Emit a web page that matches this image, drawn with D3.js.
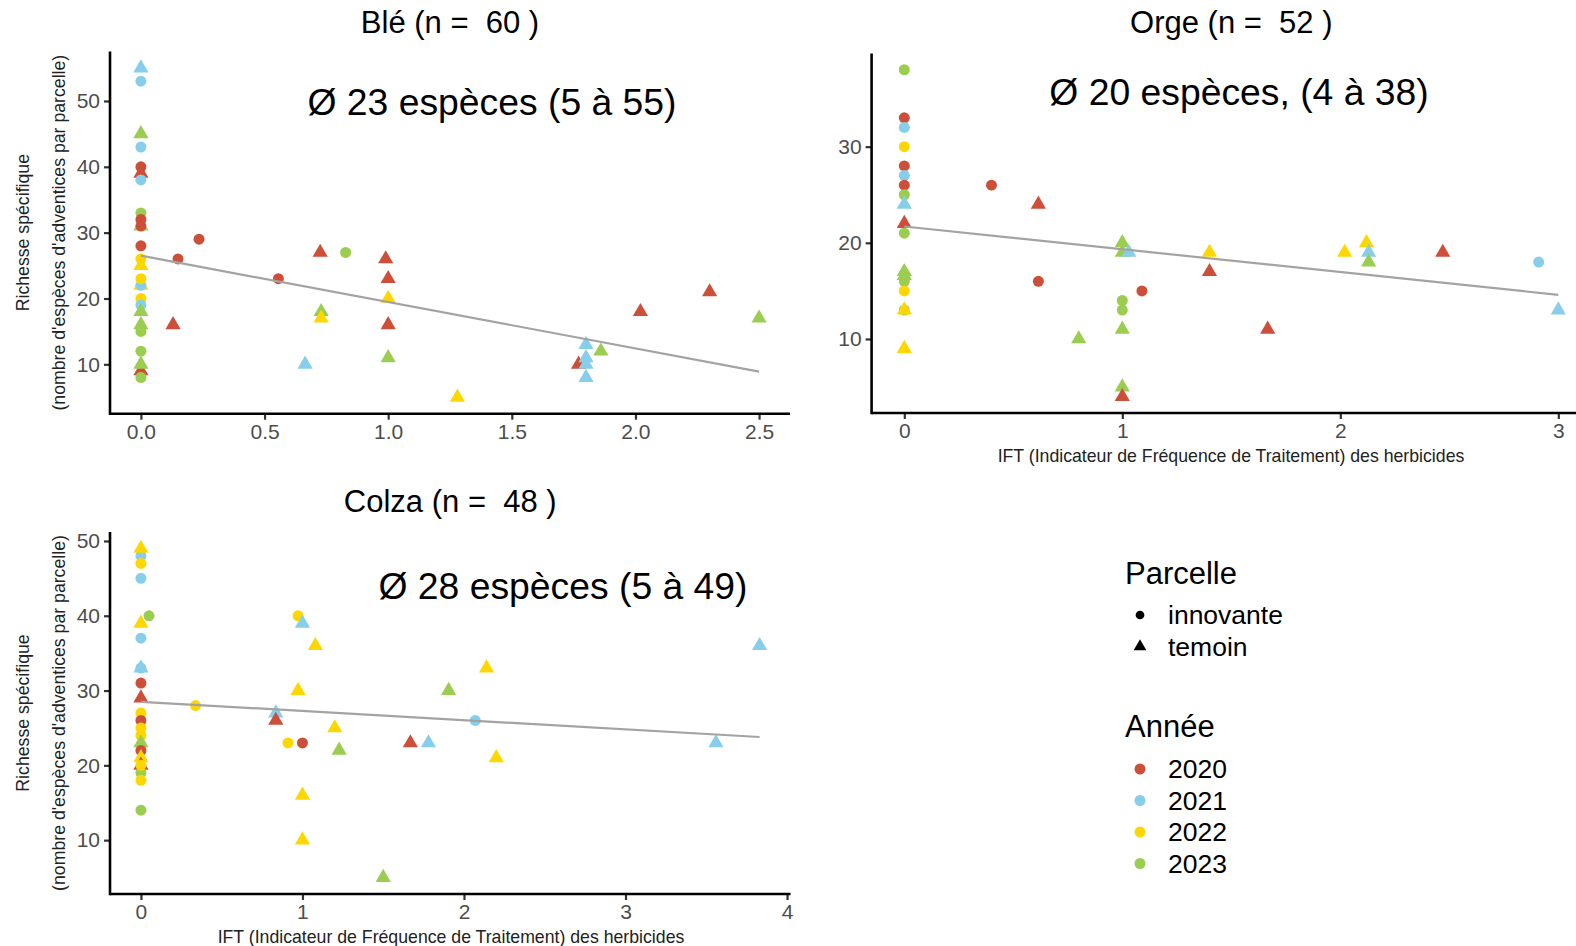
<!DOCTYPE html>
<html>
<head>
<meta charset="utf-8">
<script src="https://cdn.jsdelivr.net/npm/d3@7"></script>
<style>
  body { margin: 0; background: #fff; }
  svg { display: block; font-family: "Liberation Sans", Arial, sans-serif; }
  text { white-space: pre; }
</style>
</head>
<body>
<svg id="chart" width="1576" height="946"></svg>
<script>
// Data: [IFT, richesse, annee, parcelle] ('i' = innovante, 't' = temoin)
const blePoints = [
  [0, 55, 2021, 't'], [0, 53, 2021, 'i'], [0, 45, 2023, 't'], [0, 43, 2021, 'i'],
  [0, 39, 2020, 't'], [0, 40, 2020, 'i'], [0, 38, 2021, 'i'], [0, 31, 2023, 't'],
  [0, 33, 2023, 'i'], [0, 32, 2020, 'i'], [0, 31, 2020, 'i'], [0, 28, 2020, 'i'],
  [0, 25, 2022, 't'], [0, 26, 2022, 'i'], [0, 22, 2022, 't'], [0, 22, 2021, 'i'],
  [0, 23, 2022, 'i'], [0, 20, 2022, 'i'], [0, 19, 2021, 'i'], [0, 18, 2023, 't'],
  [0, 16, 2023, 't'], [0, 15, 2023, 'i'], [0, 12, 2023, 'i'], [0, 9, 2020, 't'],
  [0, 10, 2023, 't'], [0, 8, 2023, 'i'],
  [0.13, 16, 2020, 't'], [0.15, 26, 2020, 'i'], [0.235, 29, 2020, 'i'],
  [0.556, 23, 2020, 'i'], [0.664, 10, 2021, 't'], [0.725, 27, 2020, 't'],
  [0.729, 18, 2023, 't'], [0.729, 17, 2022, 't'], [0.828, 27, 2023, 'i'],
  [0.99, 26, 2020, 't'], [1.0, 23, 2020, 't'], [1.0, 20, 2022, 't'],
  [1.0, 16, 2020, 't'], [1.0, 11, 2023, 't'], [1.28, 5, 2022, 't'],
  [1.77, 10, 2020, 't'], [1.8, 13, 2021, 't'], [1.8, 11, 2021, 't'],
  [1.8, 10, 2021, 't'], [1.8, 8, 2021, 't'], [1.86, 12, 2023, 't'],
  [2.02, 18, 2020, 't'], [2.30, 21, 2020, 't'], [2.50, 17, 2023, 't']
];

const orgePoints = [
  [0, 38, 2023, 'i'], [0, 33, 2020, 'i'], [0, 32, 2021, 'i'], [0, 30, 2022, 'i'],
  [0, 28, 2020, 'i'], [0, 27, 2021, 'i'], [0, 26, 2020, 'i'], [0, 25, 2023, 'i'],
  [0, 24, 2021, 't'], [0, 22, 2020, 't'], [0, 21, 2023, 'i'], [0, 17, 2023, 't'],
  [0, 16.6, 2023, 't'], [0, 16, 2023, 'i'], [0, 15, 2022, 'i'], [0, 13, 2023, 'i'],
  [0, 13, 2022, 't'], [0, 9, 2022, 't'],
  [0.40, 26, 2020, 'i'], [0.615, 24, 2020, 't'], [0.615, 16, 2020, 'i'],
  [0.80, 10, 2023, 't'], [1.0, 20, 2023, 't'], [1.0, 19, 2023, 't'],
  [1.03, 19, 2021, 't'], [1.0, 14, 2023, 'i'], [1.0, 13, 2023, 'i'],
  [1.0, 11, 2023, 't'], [1.0, 5, 2023, 't'], [1.0, 4, 2020, 't'],
  [1.09, 15, 2020, 'i'], [1.40, 19, 2022, 't'], [1.40, 17, 2020, 't'],
  [1.667, 11, 2020, 't'], [2.02, 19, 2022, 't'], [2.12, 20, 2022, 't'],
  [2.13, 19, 2021, 't'], [2.13, 18, 2023, 't'], [2.47, 19, 2020, 't'],
  [2.91, 18, 2021, 'i'], [3.0, 13, 2021, 't']
];

const colzaPoints = [
  [0, 48, 2021, 'i'], [0, 49, 2022, 't'], [0, 47, 2022, 'i'], [0, 45, 2021, 'i'],
  [0.05, 40, 2023, 'i'], [0, 39, 2022, 't'], [0, 37, 2021, 'i'], [0, 33, 2021, 'i'],
  [0, 33, 2021, 't'], [0, 31, 2020, 'i'], [0, 29, 2020, 't'], [0, 27, 2022, 'i'],
  [0, 26, 2020, 'i'], [0, 25, 2022, 'i'], [0, 24, 2022, 'i'], [0, 23, 2023, 't'],
  [0, 22, 2020, 'i'], [0, 21, 2022, 't'], [0, 20, 2020, 't'], [0, 19, 2023, 'i'],
  [0, 20, 2022, 'i'], [0, 18, 2022, 'i'], [0, 14, 2023, 'i'],
  [0.338, 28, 2022, 'i'], [0.835, 27, 2021, 't'], [0.835, 26, 2020, 't'],
  [0.91, 23, 2022, 'i'], [1.0, 23, 2020, 'i'], [0.973, 40, 2022, 'i'],
  [1.0, 39, 2021, 't'], [1.08, 36, 2022, 't'], [0.973, 30, 2022, 't'],
  [1.2, 25, 2022, 't'], [1.227, 22, 2023, 't'], [1.0, 16, 2022, 't'],
  [1.0, 10, 2022, 't'], [1.5, 5, 2023, 't'], [1.668, 23, 2020, 't'],
  [1.78, 23, 2021, 't'], [1.905, 30, 2023, 't'], [2.14, 33, 2022, 't'],
  [2.07, 26, 2021, 'i'], [2.20, 21, 2022, 't'], [3.56, 23, 2021, 't'],
  [3.83, 36, 2021, 't']
];

// Linear fits: [intercept, slope, xmax]
const bleFit = [26.5, -7.04, 2.5];
const orgeFit = [21.7, -2.37, 3];
const colzaFit = [28.5, -1.23, 3.83];

const years = [2020, 2021, 2022, 2023];
const yearColors = ['#CD4F39', '#87CEEB', '#FFD700', '#9ACD50'];
const parcelles = ['innovante', 'temoin'];

const bleXTicks = [0, 0.5, 1, 1.5, 2, 2.5];
const bleYTicks = [10, 20, 30, 40, 50];
const orgeXTicks = [0, 1, 2, 3];
const orgeYTicks = [10, 20, 30];
const colzaXTicks = [0, 1, 2, 3, 4];
const colzaYTicks = [10, 20, 30, 40, 50];

const yLabel1 = 'Richesse spécifique';
const yLabel2 = "(nombre d'espèces d'adventices par parcelle)";
const xLabel = 'IFT (Indicateur de Fréquence de Traitement) des herbicides';

const svg = d3.select('#chart');
const color = d3.scaleOrdinal().domain(years).range(yearColors);
const symbolPath = type => d3.symbol()
  .type(type === 't' ? d3.symbolTriangle : d3.symbolCircle)
  .size(type === 't' ? 100 : 95)();

// Draw one panel.
const drawPanel = p => {
  const x = d3.scaleLinear().domain(p.xDomain).range([p.left, p.right]);
  const y = d3.scaleLinear().domain(p.yDomain).range([p.bottom, p.top]);
  const g = svg.append('g');

  // Axes.
  const xAxis = g.append('g')
    .attr('transform', `translate(0,${p.bottom})`)
    .call(d3.axisBottom(x).tickValues(p.xTicks).tickFormat(p.xFormat).tickSize(6).tickPadding(4));
  const yAxis = g.append('g')
    .attr('transform', `translate(${p.left},0)`)
    .call(d3.axisLeft(y).tickValues(p.yTicks).tickFormat(d3.format('d')).tickSize(6).tickPadding(4));
  [xAxis, yAxis].forEach(a => {
    a.select('.domain').remove();
    a.selectAll('.tick line').attr('stroke', '#333').attr('stroke-width', 2.2);
    a.selectAll('.tick text').attr('fill', '#4D4D4D').attr('font-size', 21)
      .attr('font-family', '"Liberation Sans", Arial, sans-serif');
  });
  g.append('line')
    .attr('x1', p.left).attr('x2', p.right).attr('y1', p.bottom).attr('y2', p.bottom)
    .attr('stroke', '#000').attr('stroke-width', 2.6);
  g.append('line')
    .attr('x1', p.left).attr('x2', p.left).attr('y1', p.top).attr('y2', p.bottom + 1.3)
    .attr('stroke', '#000').attr('stroke-width', 2.6);

  // Points.
  g.append('g')
    .selectAll('path')
    .data(p.points)
    .join('path')
    .attr('d', d => symbolPath(d[3]))
    .attr('transform', d => `translate(${x(d[0])},${y(d[1])})`)
    .attr('fill', d => color(d[2]));

  // Fit line.
  const [a, b, xmax] = p.fit;
  g.append('path')
    .datum([0, xmax])
    .attr('fill', 'none')
    .attr('stroke', '#A3A3A3')
    .attr('stroke-width', 2.2)
    .attr('d', d3.line().x(v => x(v)).y(v => y(a + b * v)));

  // Title.
  g.append('text')
    .attr('x', (p.left + p.right) / 2).attr('y', p.titleY)
    .attr('text-anchor', 'middle').attr('font-size', 31).attr('fill', '#000')
    .text(p.title);

  // Annotation.
  g.append('text')
    .attr('x', p.noteX).attr('y', p.noteY)
    .attr('text-anchor', 'middle').attr('font-size', 37.3).attr('fill', '#000')
    .text(p.note);

  if (p.yLabel) {
    const cy = (p.top + p.bottom) / 2;
    [[yLabel1, 23], [yLabel2, 59]].forEach(([t, lx]) => {
      g.append('text')
        .attr('transform', `translate(${lx},${cy}) rotate(-90)`)
        .attr('text-anchor', 'middle').attr('dominant-baseline', 'central')
        .attr('font-size', 17.7).attr('fill', '#222')
        .text(t);
    });
  }
  if (p.xLabel) {
    g.append('text')
      .attr('x', p.xLabelX).attr('y', p.bottom + 49)
      .attr('text-anchor', 'middle').attr('font-size', 17.7).attr('fill', '#222')
      .text(xLabel);
  }
};

drawPanel({
  points: blePoints, fit: bleFit,
  left: 110, right: 790, top: 51.6, bottom: 413.7,
  xDomain: [-0.125, 2.625], yDomain: [2.5, 57.5],
  xTicks: bleXTicks, yTicks: bleYTicks, xFormat: d3.format('.1f'),
  title: 'Blé (n =  60 )', titleY: 33,
  note: 'Ø 23 espèces (5 à 55)', noteX: 492, noteY: 115,
  yLabel: true, xLabel: false
});

drawPanel({
  points: orgePoints, fit: orgeFit,
  left: 871.6, right: 1591, top: 53.4, bottom: 413,
  xDomain: [-0.15, 3.15], yDomain: [2.3, 39.7],
  xTicks: orgeXTicks, yTicks: orgeYTicks, xFormat: d3.format('d'),
  title: 'Orge (n =  52 )', titleY: 33,
  note: 'Ø 20 espèces, (4 à 38)', noteX: 1239, noteY: 105,
  yLabel: false, xLabel: true, xLabelX: 1231
});

drawPanel({
  points: colzaPoints, fit: colzaFit,
  left: 110, right: 790.5, top: 532, bottom: 894,
  xDomain: [-0.1915, 4.0215], yDomain: [2.8, 51.2],
  xTicks: colzaXTicks, yTicks: colzaYTicks, xFormat: d3.format('d'),
  title: 'Colza (n =  48 )', titleY: 512,
  note: 'Ø 28 espèces (5 à 49)', noteX: 563, noteY: 599,
  yLabel: true, xLabel: true, xLabelX: 451
});

// Legend.
const legend = svg.append('g').attr('font-size', 26.5).attr('fill', '#000');
legend.append('text').attr('x', 1125).attr('y', 584).attr('font-size', 31).text('Parcelle');
parcelles.forEach((name, i) => {
  const cy = 615 + i * 31.5;
  legend.append('path')
    .attr('d', d3.symbol().type(i ? d3.symbolTriangle : d3.symbolCircle).size(i ? 70 : 60)())
    .attr('transform', `translate(1140,${cy})`)
    .attr('fill', '#000');
  legend.append('text').attr('x', 1168).attr('y', cy).attr('dominant-baseline', 'central').text(name);
});
legend.append('text').attr('x', 1125).attr('y', 737).attr('font-size', 31).text('Année');
years.forEach((yr, i) => {
  const cy = 769 + i * 31.5;
  legend.append('circle')
    .attr('cx', 1140).attr('cy', cy).attr('r', 5.5)
    .attr('fill', color(yr));
  legend.append('text').attr('x', 1168).attr('y', cy).attr('dominant-baseline', 'central').text(yr);
});
</script>
</body>
</html>
